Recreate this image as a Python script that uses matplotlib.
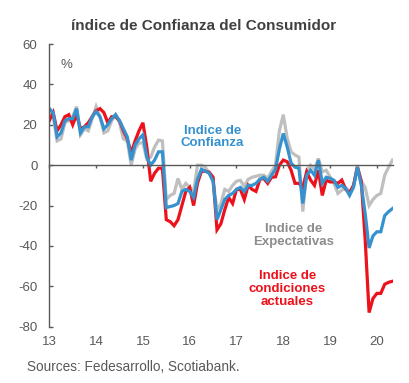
import numpy as np
import matplotlib
matplotlib.use("Agg")
import matplotlib.pyplot as plt

plt.rcParams['font.family'] = ['Liberation Sans', 'DejaVu Sans']

# Monthly observations (x in years: 13 = first observation)
start_year = 13
confianza = [28, 26, 14, 16, 22, 23, 23, 28, 16, 19, 19, 24, 26.5, 24, 18, 20, 23, 25, 22, 18,
             14, 2.5, 10, 13, 15, 4, 0, 2.5, 6.6, 6.6, -21, -20.5, -20, -19, -13, -12, -13, -16,
             -7, -2, -3, -4, -8, -27, -22, -17, -15, -14, -12, -11, -13, -10, -10, -9, -7, -6,
             -8, -5, -2, 8, 15.7, 9, 1, -1, -1.5, -19, -5, -2.5, -5, 2.5, -9, -6, -6.5, -7.5,
             -11, -10, -11.5, -15, -11, -1, -10, -24, -41, -35, -33, -33, -25, -23, -21.5]
condiciones = [22, 26, 17, 20, 24, 25, 20, 25, 18, 19, 21, 24, 27, 28, 26, 21, 24, 24, 22, 17,
               13, 6, 12, 17, 21, 9, -8, -4, -1.5, -1.5, -27, -28, -30, -27, -20, -13, -11, -20,
               -9, -3, -3, -3.5, -6, -32, -29, -22, -16, -19, -12, -12, -17, -10, -12, -13, -7, -6.6,
               -9, -6, -5.8, 0, 2.5, 1.7, -2.5, -9, -9, -11, -3.3, -7.4, -10, -2.5, -15, -7.4, -8.3,
               -8.3, -9, -7.4, -12, -13.7, -10, -1, -8, -37, -73, -66, -63.5, -63.5, -59, -58, -57.5]
expectativas = [28, 24, 12, 13, 21, 22, 24, 29, 15, 18, 17, 23, 29, 24, 16, 17, 22, 25, 21, 13,
                12, 0, 8, 11, 11, 3, 4, 9, 12.4, 12, -17, -15, -14, -6.6, -12, -9, -11, -13,
                0, 0, -1, -4, -8, -22, -19, -12, -13, -10, -8, -7.5, -10.5, -7, -6, -5.5, -5, -5,
                -6.5, -3, 0, 17, 25, 13.3, 6.6, 5, 4, -23, -3, 0, -2, 3.3, -3.3, -2.5, -5.8,
                -9, -14, -12.4, -11, -13.3, -10.7, 0, -8, -11, -20, -17, -15, -14, -5, -1, 2.5]
year_ticks = [13, 14, 15, 16, 17, 18, 19, 20]
y_ticks = [60, 40, 20, 0, -20, -40, -60, -80]

x = start_year + np.arange(len(confianza)) / 12.0

RED = '#EC111A'
BLUE = '#3592CF'
GRAY = '#BFBFBF'
AX = '#595959'

fig = plt.figure(figsize=(4.09, 3.83), dpi=100)
ax = fig.add_axes([49.3/409, 1-326.7/383, (392.8-49.3)/409, (326.7-44)/383])

ax.plot(x, expectativas, color=GRAY, lw=2.3, solid_joinstyle='miter')
ax.plot(x, condiciones, color=RED, lw=2.3, solid_joinstyle='miter')
ax.plot(x, confianza, color=BLUE, lw=2.3, solid_joinstyle='miter')

ax.set_xlim(13, 20.34)
ax.set_ylim(-80, 60)

for s in ['top', 'right']:
    ax.spines[s].set_visible(False)
ax.spines['left'].set_color(AX)
ax.spines['left'].set_linewidth(1.0)
ax.spines['bottom'].set_position(('data', 0))
ax.spines['bottom'].set_color(AX)
ax.spines['bottom'].set_linewidth(1.0)

ax.set_yticks(y_ticks)
ax.set_yticklabels([str(v).replace('-', '-') for v in y_ticks])
ax.tick_params(axis='y', direction='in', length=3, width=1, color=AX,
               labelsize=9.5, labelcolor=AX, pad=8.5)
ax.set_xticks(year_ticks)
ax.tick_params(axis='x', direction='out', length=2.5, width=1, color=AX, labelbottom=False)

sec = ax.secondary_xaxis('bottom')
sec.set_xticks(year_ticks)
sec.set_xticklabels([str(v) for v in year_ticks])
sec.tick_params(length=0, labelsize=9.5, labelcolor=AX, pad=7)
sec.spines['bottom'].set_visible(False)

ax.text(66/409, 1-65/383, '%', transform=fig.transFigure, fontsize=9.5, color=AX,
        ha='center', va='center')

fig.text(204/409, 1-26/383, 'índice de Confianza del Consumidor', fontsize=11,
         fontweight='bold', color='#404040', ha='center', va='center')

fig.text(212.5/409, 1-137/383, 'Indice de\nConfianza', fontsize=9.5, fontweight='bold',
         color=BLUE, ha='center', va='center', linespacing=1.1)
fig.text(294/409, 1-235.5/383, 'Indice de\nExpectativas', fontsize=9.5, fontweight='bold',
         color='#8C8C8C', ha='center', va='center', linespacing=1.1)
fig.text(287.5/409, 1-289/383, 'Indice de\ncondiciones\nactuales', fontsize=9.5,
         fontweight='bold', color=RED, ha='center', va='center', linespacing=1.1)

fig.text(27/409, 1-367/383, 'Sources: Fedesarrollo, Scotiabank.', fontsize=9.8,
         color=AX, ha='left', va='center')

fig.savefig('out.png', dpi=100)
